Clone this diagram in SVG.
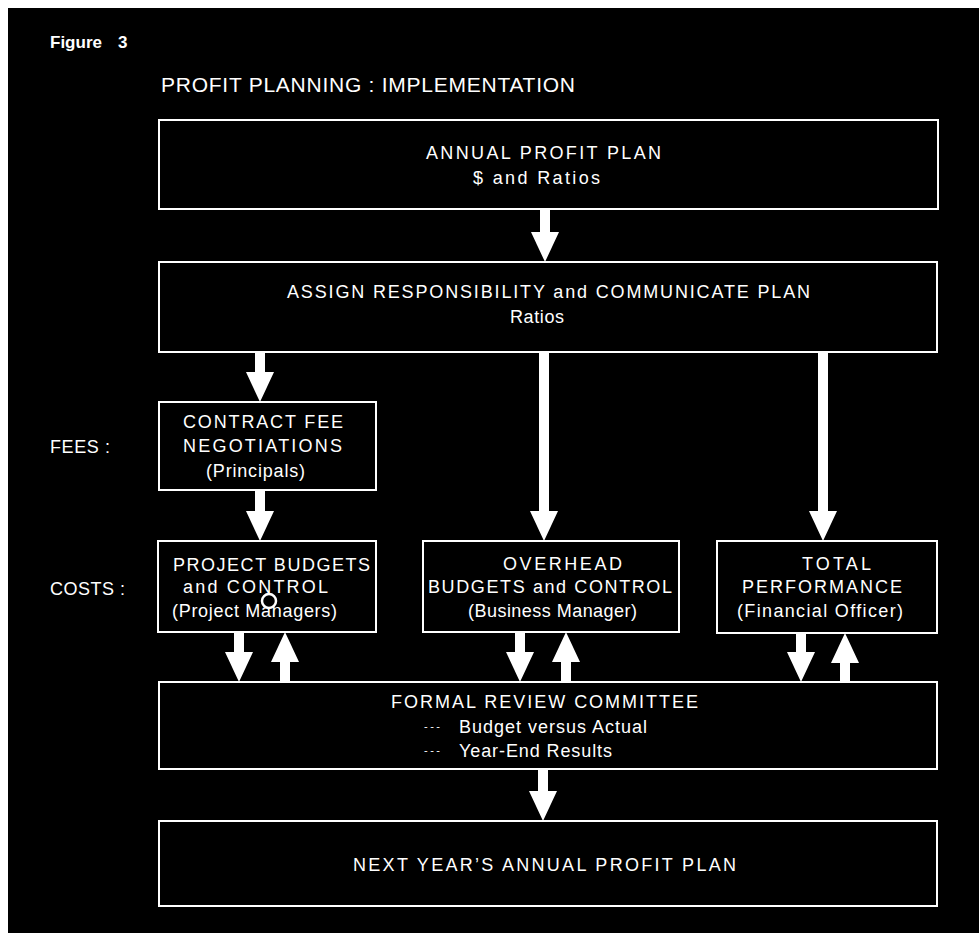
<svg xmlns="http://www.w3.org/2000/svg" width="979" height="933" viewBox="0 0 979 933">
<style>
.box{fill:#000;stroke:#fff;stroke-width:2}
.t{font-family:"Liberation Sans",Arial,Helvetica,sans-serif;fill:#fff;font-size:18px}
.d{font-size:11px}
.conn line{stroke:#fff;stroke-width:10}
</style>
<defs>
<marker id="ah" markerUnits="userSpaceOnUse" markerWidth="30" markerHeight="28" viewBox="0 0 30 28" refX="5" refY="14" orient="auto">
<path d="M0,0 L30,14 L0,28 z" fill="#fff"/>
</marker>
</defs>
<rect x="0" y="0" width="979" height="933" fill="#fff"/>
<rect x="8" y="8" width="971" height="925" fill="#000"/>
<text class="t" x="50" y="48" style="font-size:17px;font-weight:bold">Figure <tspan x="118">3</tspan></text>
<text class="t" x="161" y="92" style="font-size:21px" textLength="414" lengthAdjust="spacing">PROFIT PLANNING :  IMPLEMENTATION</text>
<text class="t" x="50" y="453" textLength="60" lengthAdjust="spacing">FEES :</text>
<text class="t" x="50" y="595" textLength="75" lengthAdjust="spacing">COSTS :</text>

<g class="conn">
<line x1="545" y1="209" x2="545" y2="237" marker-end="url(#ah)"/>
<line x1="260" y1="352" x2="260" y2="377" marker-end="url(#ah)"/>
<line x1="544" y1="352" x2="544" y2="516" marker-end="url(#ah)"/>
<line x1="823" y1="352" x2="823" y2="516" marker-end="url(#ah)"/>
<line x1="260" y1="490" x2="260" y2="516" marker-end="url(#ah)"/>
<line x1="239" y1="632" x2="239" y2="657" marker-end="url(#ah)"/>
<line x1="285" y1="682" x2="285" y2="657" marker-end="url(#ah)"/>
<line x1="520" y1="632" x2="520" y2="657" marker-end="url(#ah)"/>
<line x1="566" y1="682" x2="566" y2="657" marker-end="url(#ah)"/>
<line x1="801" y1="633" x2="801" y2="657" marker-end="url(#ah)"/>
<line x1="845" y1="682" x2="845" y2="658" marker-end="url(#ah)"/>
<line x1="543" y1="769" x2="543" y2="796" marker-end="url(#ah)"/>
</g>

<g id="annual-plan">
<rect class="box" x="159" y="120" width="779" height="89"/>
<text class="t" x="426" y="159" textLength="235" lengthAdjust="spacing">ANNUAL PROFIT PLAN</text>
<text class="t" x="473" y="184" textLength="127" lengthAdjust="spacing">$  and  Ratios</text>
</g>
<g id="assign">
<rect class="box" x="159" y="262" width="778" height="90"/>
<text class="t" x="287" y="298" textLength="523" lengthAdjust="spacing">ASSIGN RESPONSIBILITY and COMMUNICATE PLAN</text>
<text class="t" x="510" y="323" textLength="54" lengthAdjust="spacing">Ratios</text>
</g>
<g id="contract-fee">
<rect class="box" x="159" y="402" width="217" height="88"/>
<text class="t" x="183" y="428" textLength="160" lengthAdjust="spacing">CONTRACT FEE</text>
<text class="t" x="183" y="452" textLength="159" lengthAdjust="spacing">NEGOTIATIONS</text>
<text class="t" x="206" y="477" textLength="99" lengthAdjust="spacing">(Principals)</text>
</g>
<g id="project-budgets">
<rect class="box" x="158" y="541" width="218" height="91"/>
<text class="t" x="173" y="571" textLength="197" lengthAdjust="spacing">PROJECT BUDGETS</text>
<text class="t" x="183" y="593" textLength="145" lengthAdjust="spacing">and  CONTROL</text>
<text class="t" x="172" y="617" textLength="165" lengthAdjust="spacing">(Project Managers)</text>
<circle cx="269" cy="601" r="7" fill="#000" stroke="#fff" stroke-width="2.5"/>
</g>
<g id="overhead">
<rect class="box" x="423" y="541" width="256" height="91"/>
<text class="t" x="503" y="570" textLength="119" lengthAdjust="spacing">OVERHEAD</text>
<text class="t" x="428" y="593" textLength="244" lengthAdjust="spacing">BUDGETS and CONTROL</text>
<text class="t" x="468" y="617" textLength="169" lengthAdjust="spacing">(Business Manager)</text>
</g>
<g id="total-performance">
<rect class="box" x="717" y="541" width="220" height="92"/>
<text class="t" x="802" y="570" textLength="69" lengthAdjust="spacing">TOTAL</text>
<text class="t" x="742" y="593" textLength="160" lengthAdjust="spacing">PERFORMANCE</text>
<text class="t" x="737" y="617" textLength="166" lengthAdjust="spacing">(Financial Officer)</text>
</g>
<g id="review">
<rect class="box" x="159" y="682" width="778" height="87"/>
<text class="t" x="391" y="708" textLength="307" lengthAdjust="spacing">FORMAL REVIEW COMMITTEE</text>
<text class="t d" x="424" y="730" textLength="16" lengthAdjust="spacing">---</text>
<text class="t" x="459" y="733" textLength="188" lengthAdjust="spacing">Budget versus Actual</text>
<text class="t d" x="424" y="754" textLength="16" lengthAdjust="spacing">---</text>
<text class="t" x="459" y="757" textLength="153" lengthAdjust="spacing">Year-End Results</text>
</g>
<g id="next-year">
<rect class="box" x="159" y="821" width="778" height="85"/>
<text class="t" x="353" y="871" textLength="383" lengthAdjust="spacing">NEXT YEAR’S ANNUAL PROFIT PLAN</text>
</g>
</svg>
